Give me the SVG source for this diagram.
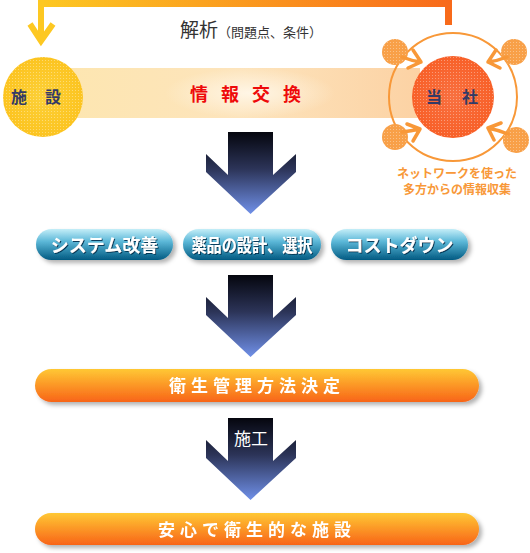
<svg xmlns="http://www.w3.org/2000/svg" width="530" height="553" viewBox="0 0 530 553">
<defs>
<linearGradient id="topbar" x1="0" y1="0" x2="1" y2="0">
<stop offset="0" stop-color="#fdc822"/><stop offset="1" stop-color="#f86a1a"/>
</linearGradient>
<linearGradient id="band" x1="0" y1="0" x2="1" y2="0">
<stop offset="0" stop-color="#fde6b0"/><stop offset="0.5" stop-color="#fde4bc"/><stop offset="1" stop-color="#fcd2a4"/>
</linearGradient>
<radialGradient id="glow" cx="0.5" cy="0.5" r="0.5">
<stop offset="0" stop-color="#fff6e6"/><stop offset="1" stop-color="#fff6e6" stop-opacity="0"/>
</radialGradient>
<linearGradient id="bigarrow" x1="0" y1="0" x2="0" y2="1">
<stop offset="0" stop-color="#05060e"/><stop offset="0.45" stop-color="#2c3458"/><stop offset="1" stop-color="#7090e8"/>
</linearGradient>
<linearGradient id="blue" x1="0" y1="0" x2="0" y2="1">
<stop offset="0" stop-color="#c4eef8"/><stop offset="0.4" stop-color="#5cb8d8"/><stop offset="1" stop-color="#005a82"/>
</linearGradient>
<linearGradient id="orange" x1="0" y1="0" x2="0" y2="1">
<stop offset="0" stop-color="#ffc834"/><stop offset="1" stop-color="#f86418"/>
</linearGradient>
<radialGradient id="yellowc" cx="0.5" cy="0.5" r="0.5">
<stop offset="0" stop-color="#fcd038"/><stop offset="1" stop-color="#fcc420"/>
</radialGradient>
<radialGradient id="redc" cx="0.5" cy="0.5" r="0.5">
<stop offset="0" stop-color="#f87040"/><stop offset="1" stop-color="#f86028"/>
</radialGradient>
<pattern id="dots" width="3" height="3" patternUnits="userSpaceOnUse">
<rect x="0" y="0" width="1" height="1" fill="#ffffff" fill-opacity="0.35"/>
</pattern>
<filter id="shadow" x="-10%" y="-30%" width="125%" height="180%">
<feGaussianBlur in="SourceAlpha" stdDeviation="2"/>
<feOffset dx="3" dy="3" result="b"/>
<feFlood flood-color="#000" flood-opacity="0.3"/>
<feComposite in2="b" operator="in"/>
<feMerge><feMergeNode/><feMergeNode in="SourceGraphic"/></feMerge>
</filter>
<filter id="tshadow" x="-10%" y="-30%" width="120%" height="160%">
<feDropShadow dx="1" dy="1" stdDeviation="0.6" flood-color="#003050" flood-opacity="0.9"/>
</filter>
</defs>
<style>
text{font-family:"Noto Sans CJK JP","Noto Sans",sans-serif}
.btn{font-size:18px;font-weight:bold;fill:#fff;text-anchor:middle}
.pill{font-size:17px;font-weight:bold;fill:#fff;text-anchor:middle;letter-spacing:5px}
.circ{font-size:16px;font-weight:bold;fill:#333a66;text-anchor:middle}
.net{font-size:12px;font-weight:bold;fill:#f89838;text-anchor:middle}
.small{fill:#f8a048}
.netarrow{fill:none;stroke:#f89838;stroke-width:3.5;stroke-linecap:round;stroke-linejoin:round}
</style>

<!-- band -->
<g id="exchange">
<rect x="60" y="68" width="360" height="50" fill="url(#band)"/>
<ellipse cx="250" cy="93" rx="85" ry="25" fill="url(#glow)"/>
<text x="252" y="101" font-size="18" font-weight="bold" fill="#ee0a0a" text-anchor="middle" letter-spacing="13">情報交換</text>
</g>

<g id="connectors">
<path d="M41,3.5 H448.5 V25" fill="none" stroke="url(#topbar)" stroke-width="7"/>
<path d="M41,0 V40" stroke="#fdc822" stroke-width="6" fill="none"/>
<path d="M30,24 L41,41 L53,24" fill="none" stroke="#fdc822" stroke-width="6" stroke-linejoin="miter"/>
<path d="M228,132 H273 V175 L296,154 V172 L250.5,214 L206,172 V154 L228,175 Z" fill="url(#bigarrow)"/>
<path d="M228,275 H273 V318 L296,297 V315 L250.5,357 L206,315 V297 L228,318 Z" fill="url(#bigarrow)"/>
<path d="M228,418 H273 V461 L296,440 V458 L250.5,500 L206,458 V440 L228,461 Z" fill="url(#bigarrow)"/>
<text x="251" y="445" font-size="17" fill="#fff" text-anchor="middle">施工</text>
</g>

<g id="analysis">
<text x="180" y="37" font-size="19" fill="#333">解析<tspan font-size="13">（問題点、条件）</tspan></text>
</g>

<g id="facility">
<circle cx="43" cy="97" r="40" fill="url(#yellowc)"/>
<circle cx="43" cy="97" r="40" fill="url(#dots)"/>
<text class="circ" x="45" y="103" letter-spacing="18">施設</text>
</g>

<g id="company">
<circle cx="453" cy="97" r="64" fill="none" stroke="#f89838" stroke-width="2"/>
<circle class="small" cx="395" cy="52" r="13"/>
<circle class="small" cx="514" cy="52" r="13"/>
<circle class="small" cx="395" cy="137" r="13"/>
<circle class="small" cx="516" cy="140" r="13"/>
<circle cx="395" cy="52" r="13" fill="url(#dots)"/>
<circle cx="514" cy="52" r="13" fill="url(#dots)"/>
<circle cx="395" cy="137" r="13" fill="url(#dots)"/>
<circle cx="516" cy="140" r="13" fill="url(#dots)"/>
<path class="netarrow" d="M402,57 Q412,61 421,62 M413,50 L421,62 L408,68"/>
<path class="netarrow" d="M507,57 Q497,61 488,62 M496,50 L488,62 L500,68"/>
<path class="netarrow" d="M402,132 Q411,131 420,129 M407,124 L420,129 L413,141"/>
<path class="netarrow" d="M508,134 Q498,130 488,128 M501,123 L488,128 L494,140"/>
<circle cx="453" cy="97" r="41" fill="url(#redc)"/>
<circle cx="453" cy="97" r="41" fill="url(#dots)"/>
<text class="circ" x="462" y="103" letter-spacing="20">当社</text>
<text class="net" x="457" y="178">ネットワークを使った</text>
<text class="net" x="457" y="194">多方からの情報収集</text>
</g>

<g id="btn-system" filter="url(#shadow)">
<rect x="36" y="229" width="137" height="31" rx="15.5" fill="url(#blue)"/>
<text class="btn" x="104.5" y="251.5" filter="url(#tshadow)">システム改善</text>
</g>
<g id="btn-drug" filter="url(#shadow)">
<rect x="183" y="229" width="138" height="31" rx="15.5" fill="url(#blue)"/>
<text class="btn" x="252" y="251.5" font-size="17" textLength="121" lengthAdjust="spacingAndGlyphs" filter="url(#tshadow)">薬品の設計、選択</text>
</g>
<g id="btn-cost" filter="url(#shadow)">
<rect x="331" y="229" width="137" height="31" rx="15.5" fill="url(#blue)"/>
<text class="btn" x="399.5" y="251.5" filter="url(#tshadow)">コストダウン</text>
</g>

<g id="decision" filter="url(#shadow)">
<rect x="35" y="369" width="444" height="33" rx="16.5" fill="url(#orange)"/>
<text class="pill" x="257" y="392">衛生管理方法決定</text>
</g>

<g id="result" filter="url(#shadow)">
<rect x="35" y="513" width="444" height="32" rx="16" fill="url(#orange)"/>
<text class="pill" x="257" y="536">安心で衛生的な施設</text>
</g>
</svg>
